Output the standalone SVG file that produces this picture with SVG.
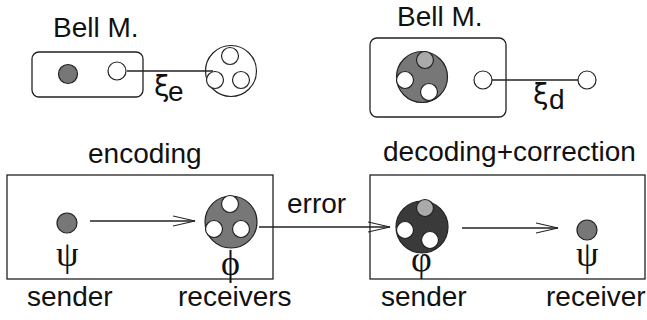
<svg xmlns="http://www.w3.org/2000/svg" width="647" height="320" viewBox="0 0 647 320">
<defs>
<style>
.t{font-family:"Liberation Sans",Arial,sans-serif;font-size:28px;fill:#111}
.g{font-family:"Liberation Serif","Times New Roman",serif;font-size:36px;fill:#111}
.x{font-family:"DejaVu Sans","Liberation Sans",sans-serif;font-size:28px;fill:#111}
.box{fill:none;stroke:#222;stroke-width:1.3}
.ln{fill:none;stroke:#222;stroke-width:1.3}
.w{fill:#fff;stroke:#222;stroke-width:1.2}
.dot{fill:#777;stroke:#222;stroke-width:1.2}
.dk{fill:#3a3a3a;stroke:#222;stroke-width:1.2}
.lt{fill:#aaa;stroke:#222;stroke-width:1.2}
</style>
<marker id="ah" markerUnits="userSpaceOnUse" markerWidth="24" markerHeight="12" refX="22" refY="6" orient="auto">
<path d="M0,1 L22,6 L0,11" fill="none" stroke="#222" stroke-width="1.2"/>
</marker>
</defs>
<rect width="647" height="320" fill="#fff"/>

<g id="bell-enc">
<text class="t" x="53" y="37">Bell M.</text>
<rect class="box" x="32" y="52" width="111" height="45" rx="7"/>
<circle class="dot" cx="68" cy="74" r="9.5"/>
<circle class="w" cx="117" cy="71" r="9"/>
</g>
<g id="enc-ancilla">
<circle class="w" cx="231" cy="71" r="25.5"/>
<circle class="w" cx="230" cy="56" r="8.5"/>
<circle class="w" cx="215" cy="80" r="8.5"/>
<circle class="w" cx="241" cy="80" r="8.5"/>
</g>
<g id="bell-dec">
<text class="t" x="397" y="26">Bell M.</text>
<rect class="box" x="370" y="38" width="136" height="79" rx="7"/>
<circle class="dot" cx="422" cy="77" r="25.5"/>
<circle class="lt" cx="425" cy="60" r="8.5"/>
<circle class="w" cx="405" cy="80" r="8.5"/>
<circle class="w" cx="429" cy="92" r="8.5"/>
<circle class="w" cx="483" cy="80" r="9"/>
</g>
<g id="dec-ancilla">
<circle class="w" cx="587" cy="80" r="9"/>
</g>

<g id="encoding">
<text class="t" x="88" y="163">encoding</text>
<rect class="box" x="7" y="175" width="266" height="104"/>
<circle class="dot" cx="67" cy="223" r="10"/>
<text class="g" x="56" y="266">ψ</text>
<circle class="dot" cx="231" cy="222" r="26"/>
<circle class="w" cx="230" cy="204" r="8.5"/>
<circle class="w" cx="214" cy="229" r="8.5"/>
<circle class="w" cx="241" cy="229" r="8.5"/>
<text class="g" x="221" y="275">ϕ</text>
<text class="t" x="27" y="306">sender</text>
<text class="t" x="178" y="306">receivers</text>
</g>

<g id="decoding">
<text class="t" x="383" y="161">decoding+correction</text>
<rect class="box" x="370" y="175" width="275" height="104"/>
<circle class="dk" cx="422" cy="227" r="26"/>
<circle class="lt" cx="425" cy="208" r="8.5"/>
<circle class="w" cx="405" cy="230" r="8.5"/>
<circle class="w" cx="430" cy="240" r="8.5"/>
<text class="g" x="411" y="271">φ</text>
<circle class="dot" cx="587" cy="230" r="10"/>
<text class="g" x="576" y="266">ψ</text>
<text class="t" x="381" y="306">sender</text>
<text class="t" x="546" y="306">receiver</text>
</g>

<g id="connectors">
<line class="ln" x1="127" y1="71" x2="213" y2="71"/>
<text class="x" x="154" y="96">ξ</text>
<text class="t" x="168" y="101">e</text>
<line class="ln" x1="492" y1="80" x2="578" y2="80"/>
<text class="x" x="533" y="104">ξ</text>
<text class="t" x="549" y="109">d</text>
<line class="ln" x1="90" y1="221" x2="195" y2="221" marker-end="url(#ah)"/>
<line class="ln" x1="259" y1="227" x2="390" y2="227" marker-end="url(#ah)"/>
<text class="t" x="287" y="213">error</text>
<line class="ln" x1="462" y1="228" x2="558" y2="228" marker-end="url(#ah)"/>
</g>
</svg>
